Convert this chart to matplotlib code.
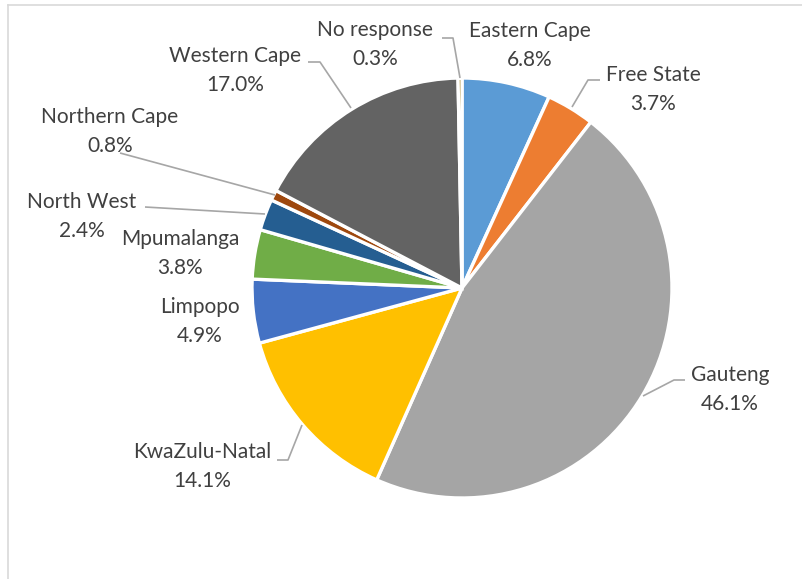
import matplotlib
matplotlib.use("Agg")
import matplotlib.pyplot as plt
from matplotlib.lines import Line2D

provinces = ["Eastern Cape", "Free State", "Gauteng", "KwaZulu-Natal", "Limpopo",
             "Mpumalanga", "North West", "Northern Cape", "Western Cape", "No response"]
shares = [6.8, 3.7, 46.1, 14.1, 4.9, 3.8, 2.4, 0.8, 17.0, 0.3]
colours = ["#5B9BD5", "#ED7D31", "#A5A5A5", "#FFC000", "#4472C4",
           "#70AD47", "#255E91", "#9E480E", "#636363", "#997300"]

W, H = 803, 579
# label centres (pixels from top-left) and leader line paths
label_pos = {
    "Eastern Cape": (530, 31), "Free State": (653, 75), "Gauteng": (730, 375),
    "KwaZulu-Natal": (202, 452), "Limpopo": (200, 307), "Mpumalanga": (180, 239),
    "North West": (82, 202), "Northern Cape": (110, 117), "Western Cape": (235, 56),
    "No response": (375, 30),
}
leaders = {
    "No response": [(442, 38), (453, 38), (460, 78)],
    "Free State": [(600, 80), (588, 80), (572, 107)],
    "Gauteng": [(685, 380), (674, 380), (643, 396)],
    "KwaZulu-Natal": [(277, 460), (288, 460), (302, 425)],
    "North West": [(145, 207), (265, 214)],
    "Northern Cape": [(120, 153), (275, 195)],
    "Western Cape": [(308, 62), (320, 62), (351, 108)],
}

fig = plt.figure(figsize=(W / 100, H / 100), dpi=100)
ax = fig.add_axes([0, 0, 1, 1])

ax.pie(shares, colors=colours, startangle=90, counterclock=False,
       center=(462, H - 288), radius=210, frame=True,
       wedgeprops=dict(edgecolor="white", linewidth=2.4))
ax.set_xlim(0, W)
ax.set_ylim(0, H)
ax.set_aspect("equal")
ax.axis("off")

font = dict(family=["Lato", "DejaVu Sans"], fontsize=15, color="#404040",
            ha="center", va="center")
for name, val in zip(provinces, shares):
    x, y = label_pos[name]
    ax.text(x, H - y, name, **font)
    ax.text(x, H - y - 29, f"{val:.1f}%", **font)

for name, pts in leaders.items():
    xs = [p[0] for p in pts]
    ys = [H - p[1] for p in pts]
    ax.plot(xs, ys, color="#A6A6A6", lw=1.2, solid_capstyle="butt")

# chart area border
fig.add_artist(Line2D([8 / W, 1], [1 - 5 / H, 1 - 5 / H], color="#D9D9D9", lw=1.2))
fig.add_artist(Line2D([8 / W, 8 / W], [0, 1 - 5 / H], color="#D9D9D9", lw=1.2))

fig.savefig("out.png", dpi=100)
